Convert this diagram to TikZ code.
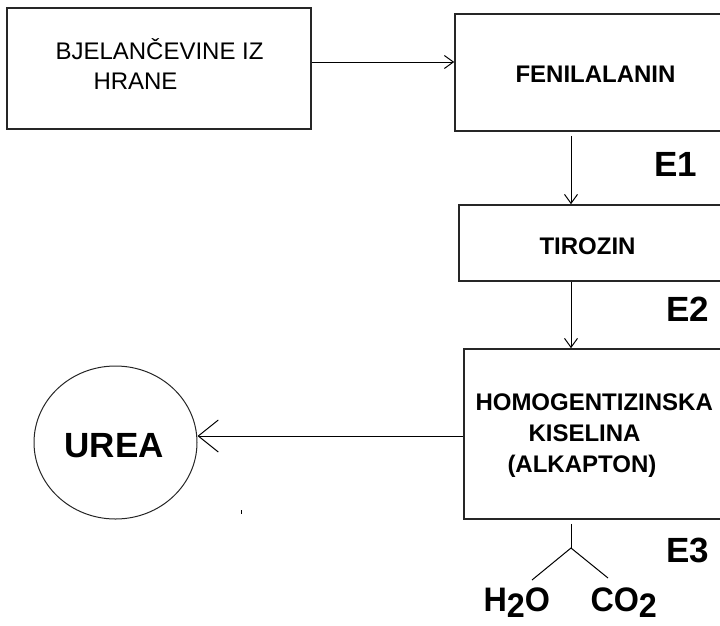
\documentclass[tikz,border=0pt]{standalone}
\usepackage{fontspec}
\setmainfont{Liberation Sans}
\newfontfamily\formulafont[FakeStretch=0.95]{Liberation Sans}
\usetikzlibrary{arrows.meta,shapes.geometric}

\begin{document}
\begin{tikzpicture}[x=1pt,y=-1pt,->,>={Straight Barb[length=9pt,width=13pt]},
  line width=1pt,
  box/.style={rectangle,draw=black!85,line width=1.6pt,inner sep=0pt},
  molecule/.style={font=\fontsize{24}{31}\selectfont\bfseries,inner sep=0pt,anchor=base west,align=left},
  food/.style={font=\fontsize{24}{30}\selectfont,inner sep=0pt,anchor=base west,align=left},
  enzyme/.style={font=\fontsize{35}{40}\selectfont\bfseries,inner sep=0pt,anchor=base west},
  product/.style={font=\formulafont\fontsize{34}{36}\selectfont\bfseries,inner sep=0pt,anchor=base west}]

  \useasboundingbox (0,0) rectangle (720,625);
  \clip (0,0) rectangle (720,625);

  % boxes
  \node[box,minimum width=304pt,minimum height=121pt] (hrana) at (159,68.5) {};
  \node[box,minimum width=345pt,minimum height=117pt] (fen) at (627.5,72.5) {};
  \node[box,minimum width=341pt,minimum height=76pt] (tir) at (629.5,243) {};
  \node[box,minimum width=336pt,minimum height=170pt] (homo) at (632,434) {};
  \node[ellipse,draw=black!85,line width=1pt,minimum width=163pt,minimum height=153pt,inner sep=0pt] (urea) at (115.5,442.5) {};

  % texts (base = last line)
  \node[food] (hranatxt) at (55,89) {BJELANČEVINE IZ\\\hspace*{38pt}HRANE};
  \node[molecule] (fentxt) at (515,82) {FENILALANIN};
  \node[molecule] (tirtxt) at (539,254) {TIROZIN};
  \node[molecule] (homotxt) at (475,472) {HOMOGENTIZINSKA\\\hspace*{53pt}KISELINA\\\hspace*{32pt}(ALKAPTON)};
  \node[enzyme] (ureatxt) at (64,457) {UREA};
  \node[enzyme] (e1) at (654,176) {E1};
  \node[enzyme] (e2) at (666,321) {E2};
  \node[enzyme] (e3) at (666,562) {E3};
  \node[product] (h2o) at (483,611) {H\raisebox{-6pt}{2}O};
  \node[product] (co2) at (590,611) {CO\raisebox{-6pt}{2}};

  % connectors
  \coordinate (spine) at (571,0);
  \coordinate (fork) at (571,548);
  \coordinate (h2oend) at (532,580);
  \coordinate (co2end) at (608,578);
  \draw ([yshift=6.5pt]hrana.east) -- ([yshift=6.5pt]hrana.east -| fen.west);
  \draw[shorten <=4pt] (fen.south -| spine) -- (tir.north -| spine);
  \draw (tir.south -| spine) -- (homo.north -| spine);
  \draw[>={Straight Barb[length=20pt,width=32pt]}] ([yshift=-2pt]homo.west) -- ([yshift=-2pt]homo.west -| urea.east);
  \draw[-,shorten <=4pt] (homo.south -| spine) -- (fork);
  \draw[-] (h2oend) -- (fork) -- (co2end);
  \draw[-] (241,510) -- (241,514);
\end{tikzpicture}
\end{document}
